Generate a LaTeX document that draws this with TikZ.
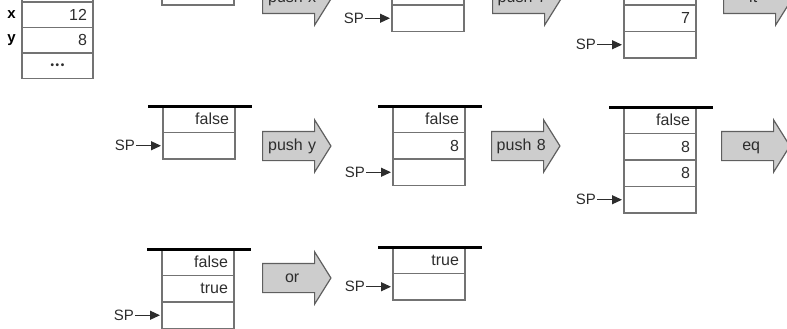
\documentclass[tikz,border=0pt]{standalone}
\usepackage{fontspec}
\setmainfont{Liberation Sans}
\usetikzlibrary{arrows.meta,positioning,shapes.arrows}
\definecolor{boxgray}{RGB}{115,115,115}
\definecolor{inkgray}{RGB}{45,45,45}
\definecolor{arrowfill}{RGB}{205,205,205}
\definecolor{arrowline}{RGB}{95,95,95}
\tikzset{
  cell/.style={draw=boxgray, line width=1.2pt, outer sep=0pt, minimum width=72pt, minimum height=26.5pt,
    inner xsep=6pt, inner ysep=0pt, text width=60pt, align=right, text=inkgray, font=\fontsize{16}{18}\selectfont},
  memcell/.style={cell, minimum width=71pt, text width=59pt, minimum height=25.5pt},
  varlabel/.style={font=\fontsize{15}{18}\selectfont\bfseries, text=black, inner sep=1pt},
  splabel/.style={font=\fontsize{15}{18}\selectfont, text=inkgray, inner sep=1pt},
  opbox/.style={single arrow, draw=arrowline, fill=arrowfill, line width=1.2pt,
    single arrow head extend=11.5pt, single arrow tip angle=116, inner xsep=0pt, inner ysep=6pt,
    text width=58pt, align=center, text height=12pt, text depth=4pt, anchor=tail,
    text=inkgray, font=\fontsize{16}{18}\selectfont},
  spflow/.style={-{Triangle[length=10pt,width=9pt]}, line width=1.2pt, inkgray, shorten >=2pt},
  stackbar/.style={line width=3pt, black}
}
\begin{document}
\begin{tikzpicture}[x=1pt, y=-1pt, node distance=0pt]
\useasboundingbox (0,0) rectangle (787,329);
\clip (0,0) rectangle (787,329);

\node[memcell, anchor=north west] (mtop) at (22,-23.5) {};
\node[memcell, below=of mtop] (mx) {12};
\node[memcell, below=of mx] (my) {8};
\node[memcell, below=of my, align=center] (mdots) {\fontsize{10}{10}\selectfont\bfseries\textbullet\,\textbullet\,\textbullet};
\node[varlabel, left=5pt of mx] (vx) {x};
\node[varlabel, left=5pt of my] (vy) {y};

\node[cell, anchor=north west] (st1a) at (162,-21.5) {};
\node[splabel, left=27pt of st1a] (sp1) {SP};
\node[opbox] (pushx) at (262,-1) {push x};

\node[cell, anchor=north west] (st2a) at (392,-21.5) {};
\node[cell, below=of st2a] (st2b) {};
\node[splabel, left=27pt of st2b] (sp2) {SP};
\node[opbox] (push7) at (492,-1) {push 7};

\node[cell, anchor=north west] (st3a) at (624,-21.5) {};
\node[cell, below=of st3a] (st3b) {7};
\node[cell, below=of st3b] (st3c) {};
\node[splabel, left=27pt of st3c] (sp3) {SP};
\node[opbox] (lt) at (723,-1) {lt};

\node[cell, anchor=north west] (st4a) at (163,106) {false};
\node[cell, below=of st4a] (st4b) {};
\node[splabel, left=27pt of st4b] (sp4) {SP};
\node[opbox] (pushy) at (262,146) {push y};

\node[cell, anchor=north west] (st5a) at (393,106) {false};
\node[cell, below=of st5a] (st5b) {8};
\node[cell, below=of st5b] (st5c) {};
\node[splabel, left=27pt of st5c] (sp5) {SP};
\node[opbox] (push8) at (491,146) {push 8};

\node[cell, anchor=north west] (st6a) at (624,107) {false};
\node[cell, below=of st6a] (st6b) {8};
\node[cell, below=of st6b] (st6c) {8};
\node[cell, below=of st6c] (st6d) {};
\node[splabel, left=27pt of st6d] (sp6) {SP};
\node[opbox] (eq) at (721,146) {eq};

\node[cell, anchor=north west] (st7a) at (162,249) {false};
\node[cell, below=of st7a] (st7b) {true};
\node[cell, below=of st7b] (st7c) {};
\node[splabel, left=27pt of st7c] (sp7) {SP};
\node[opbox] (or) at (262,278) {or};

\node[cell, anchor=north west] (st8a) at (393,247) {true};
\node[cell, below=of st8a] (st8b) {};
\node[splabel, left=27pt of st8b] (sp8) {SP};

\draw[stackbar] ([xshift=-15pt]st1a.north west) -- ([xshift=17pt]st1a.north east);
\draw[stackbar] ([xshift=-15pt]st2a.north west) -- ([xshift=17pt]st2a.north east);
\draw[stackbar] ([xshift=-15pt]st3a.north west) -- ([xshift=17pt]st3a.north east);
\draw[stackbar] ([xshift=-15pt]st4a.north west) -- ([xshift=17pt]st4a.north east);
\draw[stackbar] ([xshift=-15pt]st5a.north west) -- ([xshift=17pt]st5a.north east);
\draw[stackbar] ([xshift=-15pt]st6a.north west) -- ([xshift=17pt]st6a.north east);
\draw[stackbar] ([xshift=-15pt]st7a.north west) -- ([xshift=17pt]st7a.north east);
\draw[stackbar] ([xshift=-15pt]st8a.north west) -- ([xshift=17pt]st8a.north east);

\draw[spflow] (sp1) -- (st1a);
\draw[spflow] (sp2) -- (st2b);
\draw[spflow] (sp3) -- (st3c);
\draw[spflow] (sp4) -- (st4b);
\draw[spflow] (sp5) -- (st5c);
\draw[spflow] (sp6) -- (st6d);
\draw[spflow] (sp7) -- (st7c);
\draw[spflow] (sp8) -- (st8b);
\end{tikzpicture}
\end{document}
